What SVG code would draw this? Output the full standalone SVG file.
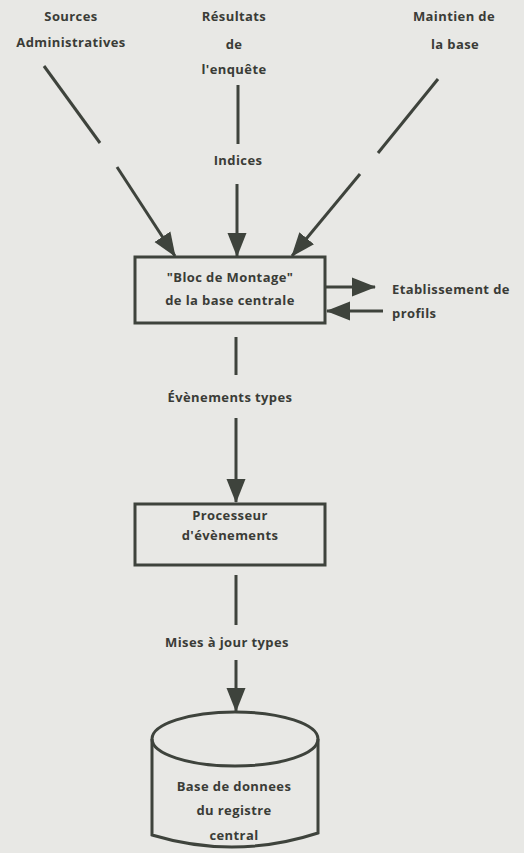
<svg xmlns="http://www.w3.org/2000/svg" width="524" height="853" viewBox="0 0 524 853">
  <style>
    .bg { fill: #e8e8e5; }
    .lbl { font-family: "Open Sans", "Liberation Sans", sans-serif; font-weight: 700; font-size: 13px; letter-spacing: 0.4px; fill: #3a3c37; text-anchor: middle; }
    .lbl-l { text-anchor: start; }
    .edge { stroke: #3e433c; stroke-width: 3; fill: none; }
    .box { fill: none; stroke: #3e433c; stroke-width: 3; }
  </style>
  <defs>
    <marker id="head" markerUnits="userSpaceOnUse" markerWidth="26" markerHeight="22" viewBox="0 0 26 22" refX="23" refY="11" orient="auto">
      <path d="M0,1.5 L24,11 L0,20.5 Z" fill="#3e433c"/>
    </marker>
  </defs>

  <rect class="bg" x="0" y="0" width="524" height="853"/>

  <!-- source labels -->
  <g id="src-admin">
    <text class="lbl" x="71" y="21">Sources</text>
    <text class="lbl" x="71" y="47">Administratives</text>
  </g>
  <g id="src-enquete">
    <text class="lbl" x="234" y="21">Résultats</text>
    <text class="lbl" x="234" y="49">de</text>
    <text class="lbl" x="234" y="74">l'enquête</text>
  </g>
  <g id="src-maintien">
    <text class="lbl" x="454" y="21">Maintien de</text>
    <text class="lbl" x="455" y="49">la base</text>
  </g>

  <!-- assembly block -->
  <g id="bloc-montage">
    <rect class="box" x="135" y="257" width="190" height="66"/>
    <text class="lbl" x="230" y="282">"Bloc de Montage"</text>
    <text class="lbl" x="230" y="305">de la base centrale</text>
  </g>

  <g id="profils">
    <text class="lbl lbl-l" x="392" y="294">Etablissement de</text>
    <text class="lbl lbl-l" x="392" y="318">profils</text>
  </g>

  <!-- event processor -->
  <g id="processeur">
    <rect class="box" x="135" y="504" width="190" height="61"/>
    <text class="lbl" x="230" y="520">Processeur</text>
    <text class="lbl" x="230" y="540">d'évènements</text>
  </g>

  <!-- central register database -->
  <g id="base-donnees">
    <path class="box" d="M152,739 L152,835 Q235,860 318,833 L318,739"/>
    <ellipse class="box" cx="235" cy="739" rx="83" ry="27"/>
    <text class="lbl" x="234" y="791">Base de  donnees</text>
    <text class="lbl" x="234" y="815">du registre</text>
    <text class="lbl" x="234" y="840">central</text>
  </g>

  <!-- flow labels -->
  <g id="flow-labels">
    <text class="lbl" x="238" y="165">Indices</text>
    <text class="lbl" x="230" y="402">Évènements types</text>
    <text class="lbl" x="227" y="647">Mises à jour types</text>
  </g>

  <!-- connectors -->
  <g id="connectors">
    <line class="edge" x1="44" y1="66" x2="100" y2="143"/>
    <line class="edge" x1="117" y1="167" x2="175" y2="256" marker-end="url(#head)"/>

    <line class="edge" x1="238" y1="85" x2="238" y2="144"/>
    <line class="edge" x1="237" y1="184" x2="237" y2="256" marker-end="url(#head)"/>

    <line class="edge" x1="438" y1="79" x2="378" y2="153"/>
    <line class="edge" x1="360" y1="174" x2="292" y2="256" marker-end="url(#head)"/>

    <line class="edge" x1="326" y1="287" x2="375" y2="287" marker-end="url(#head)"/>
    <line class="edge" x1="383" y1="311" x2="327" y2="311" marker-end="url(#head)"/>

    <line class="edge" x1="236" y1="337" x2="236" y2="375"/>
    <line class="edge" x1="236" y1="418" x2="236" y2="502" marker-end="url(#head)"/>

    <line class="edge" x1="236" y1="575" x2="236" y2="625"/>
    <line class="edge" x1="236" y1="660" x2="236" y2="711" marker-end="url(#head)"/>
  </g>
</svg>
